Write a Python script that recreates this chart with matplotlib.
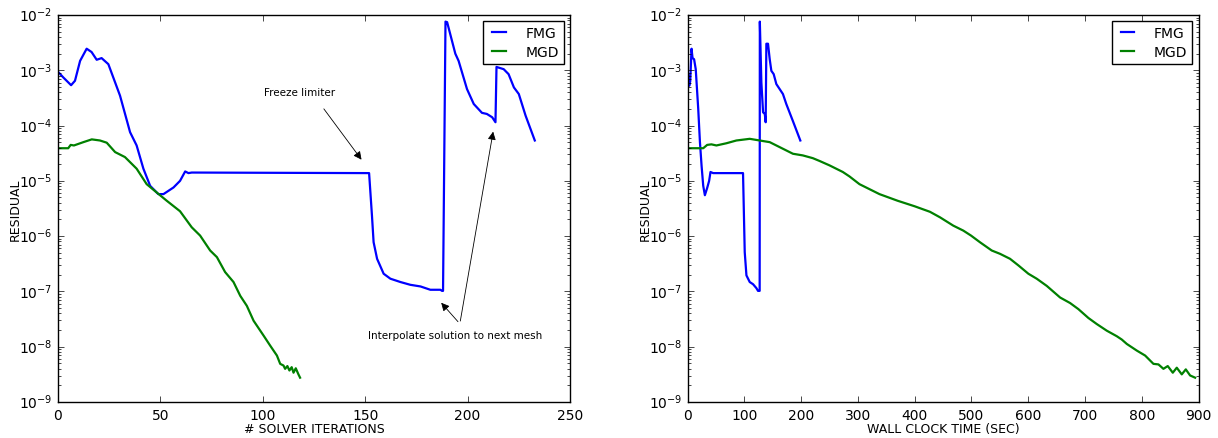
import numpy as np
import matplotlib
matplotlib.use("Agg")
import matplotlib.pyplot as plt

# %%
# Residual history vs solver iterations (log10 of residual)
fmg_iter = [0.6, 2.6, 6.4, 8.3, 10.8, 14.0, 16.4, 18.9, 21.3, 24.6, 27.9, 30.3, 35.2, 38.4,
            41.7, 45.0, 49.0, 51.5, 56.4, 59.6, 62.1, 63.7, 65.3, 151.9, 153.3, 154.1, 155.8,
            159.0, 162.3, 167.2, 172.0, 177.0, 181.8, 186.7, 187.5, 188.0, 189.2, 190.0, 194.0,
            195.6, 199.7, 203.0, 207.0, 209.4, 212.0, 213.6, 214.1, 217.6, 220.0, 222.6, 225.0,
            228.3, 232.8]
fmg_iter_log = [-3.05, -3.13, -3.27, -3.19, -2.83, -2.61, -2.67, -2.81, -2.78, -2.89, -3.22,
                -3.46, -4.12, -4.36, -4.78, -5.09, -5.24, -5.24, -5.12, -5.00, -4.83, -4.86,
                -4.85, -4.86, -5.63, -6.11, -6.41, -6.68, -6.77, -6.83, -6.88, -6.91, -6.97,
                -6.97, -6.99, -6.99, -2.12, -2.13, -2.70, -2.83, -3.34, -3.61, -3.77, -3.79,
                -3.85, -3.94, -2.94, -2.98, -3.07, -3.31, -3.43, -3.82, -4.27]

mgd_iter = [0.6, 5.0, 6.2, 7.8, 12.4, 16.5, 20.5, 23.8, 27.9, 32.7, 38.4, 43.3, 48.2, 53.1,
            59.6, 65.3, 69.4, 74.3, 77.6, 81.6, 85.7, 89.0, 92.2, 95.5, 100.4, 103.6, 106.9,
            108.5, 110.1, 110.9, 112.0, 113.0, 114.1, 115.0, 116.1, 117.4, 118.2]
mgd_iter_log = [-4.41, -4.41, -4.35, -4.36, -4.30, -4.25, -4.27, -4.31, -4.48, -4.57, -4.78,
                -5.06, -5.21, -5.36, -5.55, -5.84, -5.99, -6.26, -6.38, -6.65, -6.83, -7.08,
                -7.26, -7.53, -7.80, -7.98, -8.16, -8.31, -8.34, -8.40, -8.35, -8.43, -8.37,
                -8.47, -8.39, -8.50, -8.56]

# Residual history vs wall clock time
fmg_time = [1.0, 2.9, 4.7, 7.0, 8.8, 11.5, 14.4, 18.8, 21.8, 24.7, 27.6, 30.5, 34.5, 38.0,
            40.4, 45.0, 97.7, 100.7, 103.7, 109.5, 115.4, 121.2, 124.1, 127.0, 127.3, 130.0,
            133.0, 136.0, 137.6, 138.8, 141.7, 144.7, 147.6, 151.7, 156.4, 162.2, 168.0,
            173.9, 185.6, 198.6]
fmg_time_log = [-3.07, -3.28, -3.20, -2.61, -2.78, -2.80, -2.98, -3.70, -4.30, -4.73, -5.09,
                -5.26, -5.13, -5.00, -4.84, -4.86, -4.86, -6.29, -6.71, -6.83, -6.87, -6.94,
                -6.99, -6.99, -2.12, -3.22, -3.76, -3.79, -3.94, -2.52, -2.52, -2.80, -3.01,
                -3.07, -3.25, -3.34, -3.43, -3.61, -3.92, -4.27]

mgd_time = [0, 27.6, 34.5, 42.0, 50.8, 68.5, 86.0, 109.5, 127.0, 144.7, 162.2, 185.6, 203.0,
            220.7, 232.4, 250.0, 273.5, 285.2, 302.8, 320.4, 338.0, 370.0, 400.0, 427.0,
            444.7, 468.0, 485.7, 499.3, 515.0, 535.8, 550.4, 568.0, 582.8, 600.3, 615.0,
            632.7, 656.2, 673.8, 688.4, 706.0, 720.8, 738.4, 756.0, 764.8, 773.7, 791.3,
            806.0, 820.6, 829.4, 838.2, 845.8, 854.7, 861.7, 870.5, 877.6, 885.2, 894.0]
mgd_time_log = [-4.41, -4.41, -4.35, -4.34, -4.36, -4.32, -4.27, -4.24, -4.27, -4.30, -4.39,
                -4.51, -4.54, -4.59, -4.64, -4.72, -4.84, -4.92, -5.06, -5.15, -5.24, -5.36,
                -5.46, -5.56, -5.66, -5.81, -5.90, -5.99, -6.11, -6.26, -6.32, -6.41, -6.53,
                -6.68, -6.77, -6.90, -7.11, -7.21, -7.32, -7.48, -7.59, -7.71, -7.81, -7.87,
                -7.95, -8.07, -8.16, -8.31, -8.32, -8.40, -8.35, -8.47, -8.38, -8.50, -8.41,
                -8.52, -8.56]

# %%
plt.style.use('classic')
plt.rcParams['figure.facecolor'] = 'white'
plt.rcParams['savefig.facecolor'] = 'white'
plt.rcParams['font.size'] = 10

fig = plt.figure(figsize=(12.18, 4.39), dpi=100)
ax1 = fig.add_axes([0.0476, 0.082, 0.4204, 0.8816])
ax2 = fig.add_axes([0.5645, 0.082, 0.4195, 0.8816])

ax1.plot(fmg_iter, 10.0 ** np.array(fmg_iter_log), color='b', lw=1.6, label='FMG')
ax1.plot(mgd_iter, 10.0 ** np.array(mgd_iter_log), color='g', lw=1.6, label='MGD')
ax1.set_xlim(0, 250)
ax1.set_xlabel('# SOLVER ITERATIONS', fontsize=9, labelpad=0)

ax2.plot(fmg_time, 10.0 ** np.array(fmg_time_log), color='b', lw=1.6, label='FMG')
ax2.plot(mgd_time, 10.0 ** np.array(mgd_time_log), color='g', lw=1.6, label='MGD')
ax2.set_xlim(0, 900)
ax2.set_xlabel('WALL CLOCK TIME (SEC)', fontsize=9, labelpad=0)

for ax in (ax1, ax2):
    ax.set_yscale('log')
    ax.set_ylim(1e-9, 1e-2)
    ax.set_ylabel('RESIDUAL', fontsize=9)
    ax.yaxis.set_label_coords(-0.071, 0.5)
    ax.tick_params(labelsize=10)
    ax.legend(loc='upper right', fontsize=10, handlelength=1.6, handletextpad=1.1,
              borderaxespad=0.45, borderpad=0.35, labelspacing=0.35)

# Annotations
arrow = dict(arrowstyle='-|>', color='black', lw=0.6, mutation_scale=12)
ax1.text(118, 4.1e-4, 'Freeze limiter', fontsize=7.5, ha='center', va='center')
ax1.annotate('', xy=(149, 2.2e-5), xytext=(129, 2.2e-4), arrowprops=arrow)
ax1.text(194, 1.6e-8, 'Interpolate solution to next mesh', fontsize=7.5, ha='center', va='center')
ax1.annotate('', xy=(186.2, 6.8e-8), xytext=(196.2, 2.6e-8), arrowprops=arrow)
ax1.annotate('', xy=(212.7, 8.7e-5), xytext=(196.2, 2.6e-8), arrowprops=arrow)

plt.savefig('out.png', dpi=100)
